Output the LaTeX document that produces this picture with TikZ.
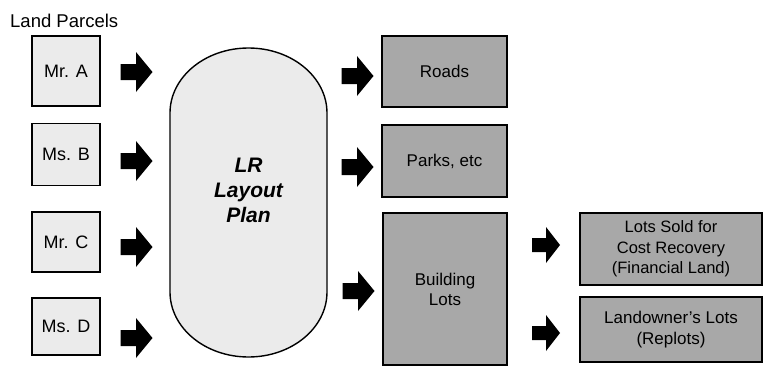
\documentclass[tikz,border=0pt]{standalone}
\usepackage{fontspec}
\setmainfont{Liberation Sans}
\definecolor{lightfill}{gray}{0.92}
\definecolor{darkfill}{gray}{0.66}
\tikzset{
  lbox/.style={draw=black, line width=1.8pt, fill=lightfill, font=\fontsize{18}{20}\selectfont, inner sep=0pt},
  rbox/.style={draw=black, line width=2.6pt, fill=darkfill, font=\fontsize{17}{20}\selectfont, align=center, inner sep=0pt},
  bigarrow/.pic={\fill[black] (-16,-8) -- (-0.5,-8) -- (-0.5,-20) -- (16,0) -- (-0.5,20) -- (-0.5,8) -- (-16,8) -- cycle;},
  smallarrow/.pic={\fill[black] (-14,-7) -- (0,-7) -- (0,-18) -- (14,0) -- (0,18) -- (0,7) -- (-14,7) -- cycle;},
}
\begin{document}
\begin{tikzpicture}[x=1pt,y=-1pt]
\useasboundingbox (0,0) rectangle (764,375);
% title
\node[anchor=west, font=\fontsize{18.5}{20}\selectfont, inner sep=0pt] (title) at (10,21) {Land Parcels};
% left boxes
\node[lbox, minimum width=68pt, minimum height=70pt] (A) at (66,71) {Mr. A};
\node[lbox, minimum width=68pt, minimum height=62pt] (B) at (66,154.5) {Ms. B};
\node[lbox, minimum width=68pt, minimum height=60pt] (C) at (66,242) {Mr. C};
\node[lbox, minimum width=68pt, minimum height=57pt] (D) at (66,326.5) {Ms. D};
% pill
\draw[line width=1.4pt, fill=lightfill] (170,113) arc[start angle=180, end angle=0, x radius=78.5pt, y radius=65pt]
  -- (327,292) arc[start angle=0, end angle=-180, x radius=78.5pt, y radius=65pt] -- cycle;
\node[align=center, font=\fontsize{21}{25}\selectfont\bfseries\itshape, inner sep=0pt] (plan) at (248.5,190) {LR\\Layout\\Plan};
% arrows from parcels
\coordinate (a1) at (136.5,72);
\coordinate (a2) at (136.5,161);
\coordinate (a3) at (136.5,247);
\coordinate (a4) at (136.5,338);
\foreach \c in {a1,a2,a3,a4} \pic at (\c) {bigarrow};
% middle boxes
\node[rbox, minimum width=125pt, minimum height=71pt] (roads) at (444.5,71.5) {Roads};
\node[rbox, minimum width=125pt, minimum height=72pt] (parks) at (444.5,161) {Parks, etc};
\node[rbox, minimum width=124pt, minimum height=152pt] (lots) at (445,289) {Building\\Lots};
% arrows from plan
\coordinate (b1) at (357.5,76);
\coordinate (b2) at (357.5,167);
\coordinate (b3) at (358.5,291);
\foreach \c in {b1,b2,b3} \pic at (\c) {bigarrow};
% right boxes
\node[rbox, minimum width=182pt, minimum height=72pt, font=\fontsize{16.5}{20.5}\selectfont] (sold) at (671,249) {Lots Sold for\\Cost Recovery\\(Financial Land)};
\node[rbox, minimum width=182pt, minimum height=65pt, font=\fontsize{17}{21}\selectfont] (owner) at (671,329.5) {Landowner's Lots\\(Replots)};
% arrows from building lots
\coordinate (c1) at (546,245);
\coordinate (c2) at (546,333);
\foreach \c in {c1,c2} \pic at (\c) {smallarrow};
\end{tikzpicture}
\end{document}
